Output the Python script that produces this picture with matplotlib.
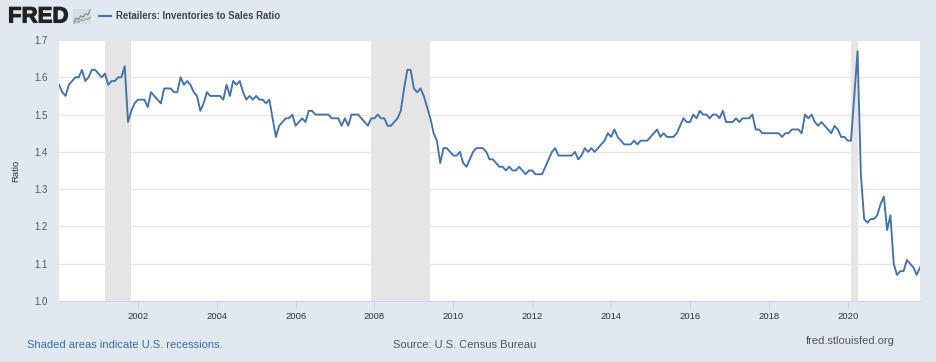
import matplotlib
matplotlib.use("Agg")
import matplotlib.pyplot as plt
import matplotlib.patheffects as pe
import numpy as np

plt.rcParams['font.family'] = ['Liberation Sans', 'DejaVu Sans']

start_year = 2000
ratio = [
    1.58, 1.56, 1.55, 1.58, 1.59, 1.60, 1.60, 1.62, 1.59, 1.60, 1.62, 1.62,  # 2000
    1.61, 1.60, 1.61, 1.58, 1.59, 1.59, 1.60, 1.60, 1.63, 1.48, 1.51, 1.53,
    1.54, 1.54, 1.54, 1.52, 1.56, 1.55, 1.54, 1.53, 1.57, 1.57, 1.57, 1.56,
    1.56, 1.60, 1.58, 1.59, 1.58, 1.56, 1.55, 1.51, 1.53, 1.56, 1.55, 1.55,
    1.55, 1.55, 1.54, 1.58, 1.55, 1.59, 1.58, 1.59, 1.56, 1.54, 1.55, 1.54,
    1.55, 1.54, 1.54, 1.53, 1.54, 1.49, 1.44, 1.47, 1.48, 1.49, 1.49, 1.50,  # 2005
    1.47, 1.48, 1.49, 1.48, 1.51, 1.51, 1.50, 1.50, 1.50, 1.50, 1.50, 1.49,
    1.49, 1.49, 1.47, 1.49, 1.47, 1.50, 1.50, 1.50, 1.49, 1.48, 1.47, 1.49,
    1.49, 1.50, 1.49, 1.49, 1.47, 1.47, 1.48, 1.49, 1.51, 1.57, 1.62, 1.62,
    1.57, 1.56, 1.57, 1.55, 1.52, 1.49, 1.45, 1.43, 1.37, 1.41, 1.41, 1.40,
    1.39, 1.39, 1.40, 1.37, 1.36, 1.38, 1.40, 1.41, 1.41, 1.41, 1.40, 1.38,  # 2010
    1.38, 1.37, 1.36, 1.36, 1.35, 1.36, 1.35, 1.35, 1.36, 1.35, 1.34, 1.35,
    1.35, 1.34, 1.34, 1.34, 1.36, 1.38, 1.40, 1.41, 1.39, 1.39, 1.39, 1.39,
    1.39, 1.40, 1.38, 1.39, 1.41, 1.40, 1.41, 1.40, 1.41, 1.42, 1.43, 1.45,
    1.44, 1.46, 1.44, 1.43, 1.42, 1.42, 1.42, 1.43, 1.42, 1.43, 1.43, 1.43,
    1.44, 1.45, 1.46, 1.44, 1.45, 1.44, 1.44, 1.44, 1.45, 1.47, 1.49, 1.48,  # 2015
    1.48, 1.50, 1.49, 1.51, 1.50, 1.50, 1.49, 1.50, 1.50, 1.49, 1.51, 1.48,
    1.48, 1.48, 1.49, 1.48, 1.49, 1.49, 1.49, 1.50, 1.46, 1.46, 1.45, 1.45,
    1.45, 1.45, 1.45, 1.45, 1.44, 1.45, 1.45, 1.46, 1.46, 1.46, 1.45, 1.50,
    1.49, 1.50, 1.48, 1.47, 1.48, 1.47, 1.46, 1.45, 1.47, 1.46, 1.44, 1.44,
    1.43, 1.43, 1.55, 1.67, 1.34, 1.22, 1.21, 1.22, 1.22, 1.23, 1.26, 1.28,  # 2020
    1.19, 1.23, 1.10, 1.07, 1.08, 1.08, 1.11, 1.10, 1.09, 1.07, 1.09,
]
recessions = [(2001 + 2/12, 2001 + 10/12), (2007 + 11/12, 2009 + 5/12), (2020 + 1/12, 2020 + 3/12)]
year_ticks = list(range(2002, 2021, 2))
ratio_ticks = [1.0, 1.1, 1.2, 1.3, 1.4, 1.5, 1.6, 1.7]
logo_line_a = [0.2, 0.4, 0.3, 0.55, 0.45, 0.7, 0.6, 0.95]
logo_line_b = [0.05, 0.2, 0.12, 0.3, 0.22, 0.36, 0.3, 0.45]

W, H = 936, 362
bg = "#e1e9f0"
blue = "#4572a7"

x = start_year + np.arange(len(ratio)) / 12

fig = plt.figure(figsize=(W / 100, H / 100), dpi=100, facecolor=bg)
ax = fig.add_axes([59 / W, 1 - 301 / H, (920 - 59) / W, 261 / H], facecolor="white")

for a, b in recessions:
    ax.axvspan(a, b, color="#e5e5e5", lw=0, zorder=1)
ax.plot(x, ratio, color=blue, lw=1.35, zorder=3, solid_joinstyle="round")

ax.set_xlim(x[0], x[-1])
ax.set_ylim(1.0, 1.7)
ax.set_xticks(year_ticks)
ax.set_yticks(ratio_ticks)
ax.set_yticklabels(["%.1f" % v for v in ratio_ticks])
ax.grid(axis="y", color="#e6e6e6", lw=1, zorder=0)
ax.set_axisbelow(True)
ax.tick_params(axis="x", length=5, width=0.8, color="#ccd6eb", labelcolor="#333333", labelsize=6.8, pad=3)
ax.tick_params(axis="y", length=0, labelcolor="#555555", labelsize=7, pad=8)
for s in ["top", "right", "left"]:
    ax.spines[s].set_visible(False)
ax.spines["bottom"].set_color("#ccd6eb")
ax.spines["bottom"].set_linewidth(0.8)
fig.text(16 / W, 1 - 171 / H, "Ratio", rotation=90, ha="center", va="center", fontsize=6.8, color="#333333")

# header
fig.text(8 / W, 1 - 17 / H, "FRED", fontsize=16, fontweight="bold", color="#222222", va="center", ha="left",
         path_effects=[pe.withStroke(linewidth=0.8, foreground="#222222")])
icon = fig.add_axes([73 / W, 1 - 24 / H, 18 / W, 15 / H], facecolor="#d5dde2")
icon.plot(logo_line_a, color="#5f7fa5", lw=0.7)
icon.plot(logo_line_b, color="#7f9f55", lw=0.7)
icon.set_xticks([])
icon.set_yticks([])
icon.set_ylim(0, 1)
for s in icon.spines.values():
    s.set_visible(False)

fig.add_artist(plt.Line2D([99 / W, 111 / W], [1 - 16 / H, 1 - 16 / H], color=blue, lw=1.5))
fig.text(116 / W, 1 - 16 / H, "Retailers: Inventories to Sales Ratio", fontsize=6.9, fontweight="bold",
         color="#444444", va="center", ha="left")

# footer
fig.text(27 / W, 1 - 345 / H, "Shaded areas indicate U.S. recessions.", fontsize=8.05, color="#3a6ba5", va="center")
fig.text(393 / W, 1 - 345 / H, "Source: U.S. Census Bureau", fontsize=8.05, color="#555555", va="center")
fig.text(895 / W, 1 - 341 / H, "fred.stlouisfed.org", fontsize=8.05, color="#555555", va="center", ha="right")

fig.savefig("out.png", dpi=100, facecolor=bg)
